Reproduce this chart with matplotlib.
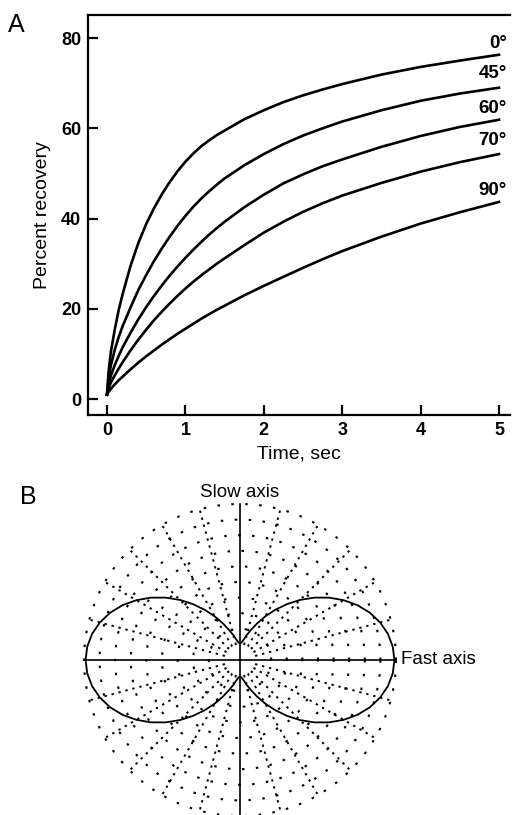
import numpy as np
import matplotlib
matplotlib.use("Agg")
import matplotlib.pyplot as plt

plt.rcParams['font.family'] = ['Liberation Sans', 'DejaVu Sans']

# Panel A: recovery curves
time_s = [0, 0.02, 0.05, 0.1, 0.15, 0.2, 0.3, 0.4, 0.5, 0.6, 0.7, 0.8, 0.9, 1.0,
          1.1, 1.2, 1.3, 1.4, 1.5, 1.75, 2.0, 2.25, 2.5, 2.75, 3.0, 3.5, 4.0, 4.5, 5.0]
rec_0 = [1, 6, 10.5, 15.5, 19.8, 23.3, 29.5, 34.6, 38.8, 42.3, 45.4, 48.1, 50.5, 52.6,
         54.4, 56.0, 57.3, 58.5, 59.5, 62.0, 64.0, 65.8, 67.3, 68.6, 69.8, 71.9, 73.6, 75.0, 76.3]
rec_45 = [1, 4.5, 7.5, 11, 13.8, 16.2, 20.3, 24.2, 27.5, 30.6, 33.4, 36.0, 38.4, 40.6,
          42.6, 44.4, 46.0, 47.5, 48.9, 51.8, 54.3, 56.5, 58.4, 60.0, 61.5, 64.0, 66.1, 67.7, 69.0]
rec_60 = [1, 3.2, 5.2, 7.6, 9.6, 11.5, 14.7, 17.7, 20.4, 22.9, 25.2, 27.4, 29.4, 31.3,
          33.1, 34.8, 36.4, 37.9, 39.3, 42.5, 45.3, 47.8, 49.8, 51.6, 53.1, 55.9, 58.3, 60.3, 61.9]
rec_70 = [1, 2.4, 3.7, 5.3, 6.8, 8.2, 10.8, 13.2, 15.4, 17.5, 19.4, 21.2, 22.9, 24.5,
          26.0, 27.4, 28.7, 30.0, 31.2, 34.1, 36.9, 39.3, 41.5, 43.4, 45.1, 47.9, 50.4, 52.5, 54.3]
rec_90 = [1, 1.6, 2.3, 3.3, 4.2, 5.0, 6.6, 8.1, 9.5, 10.8, 12.1, 13.3, 14.5, 15.6,
          16.7, 17.8, 18.8, 19.8, 20.7, 23.0, 25.1, 27.1, 29.1, 31.0, 32.8, 36.0, 38.9, 41.4, 43.7]
curve_labels = ['0°', '45°', '60°', '70°', '90°']
label_y = [78.8, 72.1, 64.4, 57.2, 46.3]

# Panel B: lobe radius (relative) vs angle from the fast axis, one quadrant
lobe_deg = [0, 5, 10, 15, 20, 25, 30, 35, 40, 45, 50, 55, 60, 65, 70, 75, 80, 85, 90]
lobe_r = [0.99, 0.983, 0.963, 0.93, 0.886, 0.831, 0.767, 0.697, 0.622, 0.545, 0.467, 0.392,
          0.322, 0.258, 0.205, 0.165, 0.132, 0.112, 0.104]

fig = plt.figure(figsize=(5.14, 8.15), dpi=100)

# ---- panel A ----
ax = fig.add_axes([88/514, 1-415/815, 422/514, 400/815])
for vals in [rec_0, rec_45, rec_60, rec_70, rec_90]:
    ax.plot(time_s, vals, color='black', lw=1.9, solid_joinstyle='round')
for lab, yy in zip(curve_labels, label_y):
    ax.text(5.10, yy, lab, ha='right', va='center', fontsize=13.5, fontweight='bold')

ax.set_xlim(-0.242, 5.14)
ax.set_ylim(-3.5, 85.1)
ax.set_xticks([0, 1, 2, 3, 4, 5])
ax.set_yticks([0, 20, 40, 60, 80])
ax.tick_params(direction='in', length=7, width=1.6, labelsize=13, pad=5)
for lbl in ax.get_xticklabels() + ax.get_yticklabels():
    lbl.set_fontweight('bold')
ax.spines['right'].set_visible(False)
for s in ['left', 'bottom', 'top']:
    ax.spines[s].set_linewidth(1.6)
ax.set_xlabel('Time, sec', fontsize=14, labelpad=5)
ax.set_ylabel('Percent recovery', fontsize=14, labelpad=7)
fig.text(8/514, 1-25/815, 'A', fontsize=18, va='center', ha='left')

# ---- panel B ----
bx = fig.add_axes([80/514, 1-820/815, 320/514, 320/815])
lim = 160/156
bx.set_xlim(-lim, lim)
bx.set_ylim(-lim, lim)
bx.set_aspect('equal')
bx.axis('off')

# dotted polar grid
phi = np.linspace(0, 2*np.pi, 361)
for rr in np.arange(0.2, 1.01, 0.1):
    bx.plot(rr*np.cos(phi), rr*np.sin(phi), color='black', lw=1.5,
            ls=(0, (1.2, 5.5)), clip_on=False)
for deg in range(0, 360, 15):
    if deg % 90 == 0:
        continue
    a = np.deg2rad(deg)
    bx.plot([0.1*np.cos(a), np.cos(a)], [0.1*np.sin(a), np.sin(a)], color='black',
            lw=1.4, ls=(0, (1.2, 2.5)), clip_on=False)

# solid axes
bx.plot([-1, 1], [0, 0], color='black', lw=1.2, clip_on=False)
bx.plot([0, 0], [-1.01, 1], color='black', lw=1.2, clip_on=False)

# lobe outline, mirrored into the four quadrants
d = np.array(lobe_deg, dtype=float)
r = np.array(lobe_r)
ang = np.concatenate([d, 180 - d[::-1], 180 + d, 360 - d[::-1]])
rad = np.concatenate([r, r[::-1], r, r[::-1]])
ang = np.deg2rad(ang)
bx.plot(rad*np.cos(ang), rad*np.sin(ang), color='black', lw=1.3, clip_on=False)

bx.text(0, 1.02, 'Slow axis', ha='center', va='bottom', fontsize=13.5)
bx.text(1.03, 0, 'Fast axis', ha='left', va='center', fontsize=13.5)
fig.text(20/514, 1-497/815, 'B', fontsize=18, va='center', ha='left')

fig.savefig('out.png', dpi=100)
